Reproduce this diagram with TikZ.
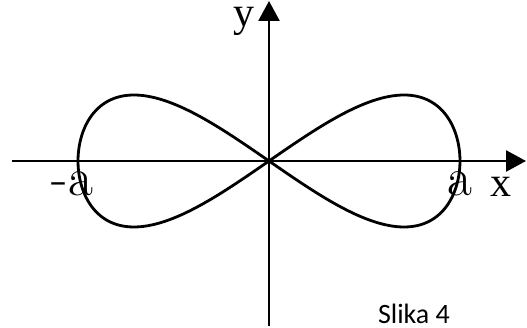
\documentclass[tikz,border=0pt]{standalone}
\usepackage{fontspec}
\newfontfamily\captionfont{Carlito}
\newfontfamily\labelfont{Liberation Serif}
\usepackage{tikz}
\usetikzlibrary{arrows.meta, positioning}

\begin{document}
\begin{tikzpicture}[x=1pt, y=1pt, >={Triangle[length=20pt, width=21pt]},
    axis/.style={line width=2.6pt, ->},
    curve/.style={line width=2.8pt, line join=round},
    axislabel/.style={inner sep=0pt, anchor=base, font=\labelfont\fontsize{42}{42}\selectfont},
    pointlabel/.style={inner sep=0pt, anchor=base, font=\fontsize{54}{54}\selectfont}]
    % Khung hình
    \useasboundingbox (-269,-167) rectangle (258,161);

    % Trục tọa độ
    \coordinate (O) at (0,0);
    \coordinate (xstart) at (-257,0);
    \coordinate (xend) at (257,0);
    \coordinate (ystart) at (0,-165);
    \coordinate (yend) at (0,160);
    \draw[axis] (xstart) -- (xend);
    \draw[axis] (ystart) -- (yend);

    % Đường cong hình số 8
    \draw[curve] plot[domain=0:360, samples=240, smooth]
        ({191*cos(\x)}, {66*sin(2*\x)}) -- cycle;

    % Nhãn
    \node[axislabel] (ylabel) at (-25,134) {y};
    \node[axislabel] (xlabel) at (232,-36) {x};
    \node[pointlabel, anchor=base east] (aminus) at (-176,-35) {-a};
    \node[pointlabel] (aplus) at (191,-35) {a};
    \node[font=\captionfont\fontsize{28}{28}\selectfont, inner sep=0pt, anchor=base]
        (caption) at (145,-163) {Slika 4};
\end{tikzpicture}
\end{document}
